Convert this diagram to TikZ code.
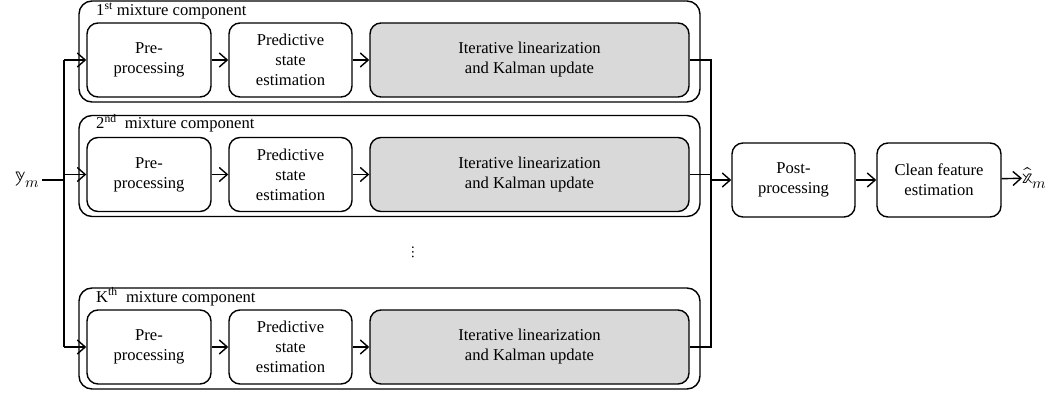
\documentclass[tikz,border=0pt]{standalone}
\usepackage{fontspec}
\usepackage{unicode-math}
\setmainfont{Liberation Serif}
\setmathfont{Latin Modern Math}
\usetikzlibrary{arrows.meta,positioning}
\definecolor{boxgray}{RGB}{217,217,217}
\begin{document}
\begin{tikzpicture}[x=1pt,y=-1pt,
  font=\fontsize{16.6}{20}\selectfont,
  blk/.style={draw,line width=1.4pt,rounded corners=11pt,minimum height=74pt,align=center,inner sep=2pt},
  cont/.style={draw,line width=1.4pt,rounded corners=13pt},
  ttl/.style={anchor=base west,inner sep=0pt},
  wire/.style={line width=1.4pt},
  arr/.style={line width=1.4pt,-{Straight Barb[length=8pt,width=14pt,line width=1.4pt]}},
  sym/.style={font=\fontsize{22}{24}\selectfont,inner sep=0pt}
]
\useasboundingbox (0,0) rectangle (1057,395);

% containers
\foreach \n/\c in {1/60,2/174.5,K/347}{
  \draw[cont] (79,\c-59) rectangle (700,\c+42);
}
\node[ttl] (t1) at (96,16) {1\textsuperscript{st} mixture component};
\node[ttl] (t2) at (96,129) {2\textsuperscript{nd}\ \ mixture component};
\node[ttl] (tK) at (96,302) {K\textsuperscript{th}\ \ mixture component};

% inner blocks
\foreach \n/\c in {1/60,2/174.5,K/347}{
  \node[blk,minimum width=124pt] (pre\n) at (149,\c) {Pre-\\processing};
  \node[blk,minimum width=123pt] (pred\n) at (290.5,\c) {Predictive\\state\\estimation};
  \node[blk,minimum width=319pt,fill=boxgray] (it\n) at (529.5,\c) {Iterative linearization\\and Kalman update};
  \draw[arr] (pre\n) -- (pred\n);
  \draw[arr] (pred\n) -- (it\n);
}

\node (dots) at (413,252) {$\vdots$};

% input
\node[sym,anchor=east] (ym) at (40,180) {$\mathbb{y}_m$};
\coordinate (busL) at (64,180);
\draw[line width=1.8pt] (ym.east) ++(2pt,0) -- (busL);
\draw[wire] (pre1.west -| busL) -- (preK.west -| busL);
\foreach \n in {1,2,K}{
  \draw[arr] (pre\n.west -| busL) -- (pre\n.west);
}

% output bus
\coordinate (busR) at (711,180);
\node[blk,minimum width=123pt] (post) at (793.5,180) {Post-\\processing};
\node[blk,minimum width=124pt] (clean) at (939,180) {Clean feature\\estimation};
\draw[wire] (it1.east) -- (it1.east -| busR) -- (itK.east -| busR) -- (itK.east);
\draw[wire] (it2.east) -- (it2.east -| busR);
\draw[arr] (busR) -- (post);
\draw[arr] (post) -- (clean);
\node[sym,anchor=west] (xm) at (1022,178) {$\hat{\mathbb{x}}_m$};
\draw[arr] (clean) -- (xm);
\end{tikzpicture}
\end{document}
